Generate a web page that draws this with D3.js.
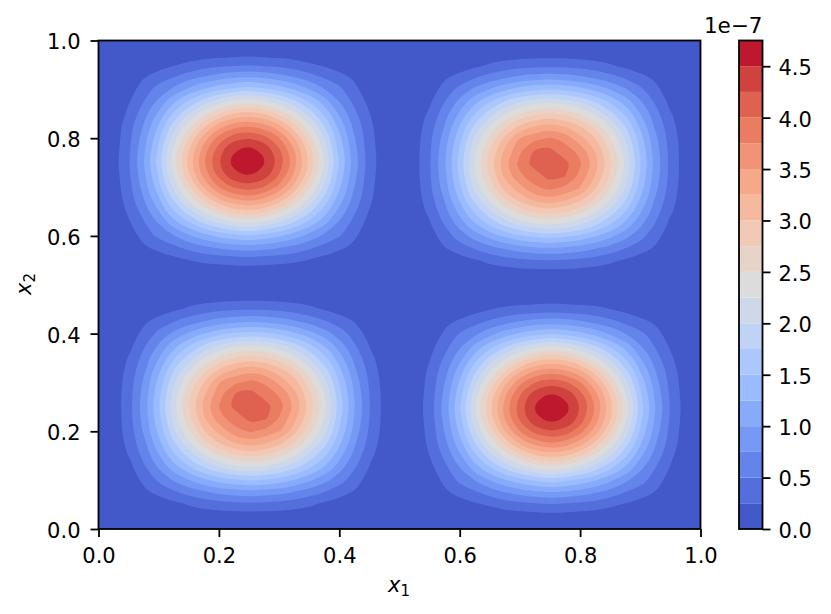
<!DOCTYPE html>
<html lang="en">

<head>
    <meta charset="UTF-8">
    <script src="https://cdn.jsdelivr.net/npm/d3@7"></script>
    <style>
        * {
            margin: 0;
            padding: 0;
        }

        body {
            background: #ffffff;
        }

        text {
            font-family: "DejaVu Sans", sans-serif;
            font-size: 21px;
            fill: #000000;
        }
    </style>
    <title>contour</title>
</head>

<body>
    <script>
        // contour levels and the colour of each band, values in units of 1e-7
        const levels = [0.25, 0.5, 0.75, 1, 1.25, 1.5, 1.75, 2, 2.25, 2.5, 2.75, 3, 3.25, 3.5, 3.75, 4, 4.25, 4.5];
        const levelEnd = 4.75;
        const bandColors = ["#4358c9", "#546fdc", "#6484eb", "#7699f6", "#88aafb", "#9abbfe", "#acc7fb", "#bed3f6", "#ced8e9", "#dddcdc",
            "#e8d3c9", "#f2c9b5", "#f5b99f", "#f6a88a", "#f19376", "#ea7c62", "#de624f", "#cf423e", "#bd182e"];
        const axisTicks = [0, 0.2, 0.4, 0.6, 0.8, 1];
        const barTicks = [0, 0.5, 1, 1.5, 2, 2.5, 3, 3.5, 4, 4.5];

        // where the four humps sit, and which grid each one uses
        const humpX = [0.2475, 0.7486, 0.2533, 0.753];
        const humpY = [0.753, 0.7478, 0.2515, 0.2474];
        const humpKind = ["peak", "flat", "flat", "peak"];
        const gridStep = 0.025;

        // values read around a hump with a sharp core
        const peakGrid = [
            [0, .01, .02, .03, .05, .07, .09, .10, .11, .12, .11, .10, .09, .07, .05, .03, .02, .01, 0],
            [.01, .03, .07, .10, .19, .27, .33, .37, .40, .42, .40, .37, .33, .27, .19, .10, .07, .03, .01],
            [.02, .07, .20, .33, .45, .58, .71, .81, .88, .92, .88, .81, .71, .58, .45, .33, .20, .07, .02],
            [.03, .10, .33, .56, .75, .98, 1.19, 1.36, 1.48, 1.55, 1.48, 1.36, 1.19, .98, .75, .56, .33, .10, .03],
            [.05, .19, .45, .75, 1.12, 1.46, 1.77, 2.03, 2.22, 2.31, 2.22, 2.03, 1.77, 1.46, 1.12, .75, .45, .19, .05],
            [.07, .27, .58, .98, 1.46, 1.90, 2.31, 2.65, 2.92, 3.00, 2.92, 2.65, 2.31, 1.90, 1.46, .98, .58, .27, .07],
            [.09, .33, .71, 1.19, 1.77, 2.31, 2.83, 3.27, 3.55, 3.65, 3.55, 3.27, 2.83, 2.31, 1.77, 1.19, .71, .33, .09],
            [.10, .37, .81, 1.36, 2.03, 2.65, 3.27, 3.76, 4.07, 4.18, 4.07, 3.76, 3.27, 2.65, 2.03, 1.36, .81, .37, .10],
            [.11, .40, .88, 1.48, 2.22, 2.92, 3.55, 4.07, 4.45, 4.54, 4.45, 4.07, 3.55, 2.92, 2.22, 1.48, .88, .40, .11],
            [.12, .42, .92, 1.55, 2.31, 3.00, 3.65, 4.18, 4.54, 4.75, 4.54, 4.18, 3.65, 3.00, 2.31, 1.55, .92, .42, .12],
            [.11, .40, .88, 1.48, 2.22, 2.92, 3.55, 4.07, 4.45, 4.54, 4.45, 4.07, 3.55, 2.92, 2.22, 1.48, .88, .40, .11],
            [.10, .37, .81, 1.36, 2.03, 2.65, 3.27, 3.76, 4.07, 4.18, 4.07, 3.76, 3.27, 2.65, 2.03, 1.36, .81, .37, .10],
            [.09, .33, .71, 1.19, 1.77, 2.31, 2.83, 3.27, 3.55, 3.65, 3.55, 3.27, 2.83, 2.31, 1.77, 1.19, .71, .33, .09],
            [.07, .27, .58, .98, 1.46, 1.90, 2.31, 2.65, 2.92, 3.00, 2.92, 2.65, 2.31, 1.90, 1.46, .98, .58, .27, .07],
            [.05, .19, .45, .75, 1.12, 1.46, 1.77, 2.03, 2.22, 2.31, 2.22, 2.03, 1.77, 1.46, 1.12, .75, .45, .19, .05],
            [.03, .10, .33, .56, .75, .98, 1.19, 1.36, 1.48, 1.55, 1.48, 1.36, 1.19, .98, .75, .56, .33, .10, .03],
            [.02, .07, .20, .33, .45, .58, .71, .81, .88, .92, .88, .81, .71, .58, .45, .33, .20, .07, .02],
            [.01, .03, .07, .10, .19, .27, .33, .37, .40, .42, .40, .37, .33, .27, .19, .10, .07, .03, .01],
            [0, .01, .02, .03, .05, .07, .09, .10, .11, .12, .11, .10, .09, .07, .05, .03, .02, .01, 0]
        ];

        // values read around a hump with a flat core, leaning along one diagonal
        const flatGrid = [
            [0, .01, .02, .03, .06, .08, .10, .12, .13, .13, .13, .12, .10, .08, .06, .03, .02, .01, 0],
            [.01, .03, .07, .11, .20, .29, .36, .41, .44, .45, .44, .41, .36, .29, .20, .11, .07, .03, .01],
            [.02, .07, .21, .35, .49, .62, .74, .84, .90, .93, .90, .84, .74, .62, .49, .35, .21, .07, .02],
            [.03, .11, .35, .58, .82, 1.04, 1.24, 1.40, 1.50, 1.55, 1.50, 1.40, 1.24, 1.04, .82, .58, .35, .11, .03],
            [.06, .20, .49, .82, 1.18, 1.50, 1.79, 2.02, 2.17, 2.23, 2.17, 2.02, 1.79, 1.50, 1.18, .82, .49, .20, .06],
            [.08, .29, .62, 1.04, 1.50, 1.89, 2.26, 2.55, 2.74, 2.82, 2.74, 2.55, 2.26, 1.89, 1.50, 1.04, .62, .29, .08],
            [.10, .36, .74, 1.24, 1.79, 2.26, 2.70, 3.05, 3.27, 3.37, 3.27, 3.05, 2.70, 2.26, 1.79, 1.24, .74, .36, .10],
            [.12, .41, .84, 1.40, 2.02, 2.55, 3.05, 3.50, 3.69, 3.80, 3.69, 3.38, 3.05, 2.55, 2.02, 1.40, .84, .41, .12],
            [.13, .44, .90, 1.50, 2.17, 2.74, 3.27, 3.69, 4.02, 4.08, 3.88, 3.69, 3.27, 2.74, 2.17, 1.50, .90, .44, .13],
            [.13, .45, .93, 1.55, 2.23, 2.82, 3.37, 3.80, 4.08, 4.20, 4.08, 3.80, 3.37, 2.82, 2.23, 1.55, .93, .45, .13],
            [.13, .44, .90, 1.50, 2.17, 2.74, 3.27, 3.69, 3.88, 4.08, 4.02, 3.69, 3.27, 2.74, 2.17, 1.50, .90, .44, .13],
            [.12, .41, .84, 1.40, 2.02, 2.55, 3.05, 3.38, 3.69, 3.80, 3.69, 3.50, 3.05, 2.55, 2.02, 1.40, .84, .41, .12],
            [.10, .36, .74, 1.24, 1.79, 2.26, 2.70, 3.05, 3.27, 3.37, 3.27, 3.05, 2.70, 2.26, 1.79, 1.24, .74, .36, .10],
            [.08, .29, .62, 1.04, 1.50, 1.89, 2.26, 2.55, 2.74, 2.82, 2.74, 2.55, 2.26, 1.89, 1.50, 1.04, .62, .29, .08],
            [.06, .20, .49, .82, 1.18, 1.50, 1.79, 2.02, 2.17, 2.23, 2.17, 2.02, 1.79, 1.50, 1.18, .82, .49, .20, .06],
            [.03, .11, .35, .58, .82, 1.04, 1.24, 1.40, 1.50, 1.55, 1.50, 1.40, 1.24, 1.04, .82, .58, .35, .11, .03],
            [.02, .07, .21, .35, .49, .62, .74, .84, .90, .93, .90, .84, .74, .62, .49, .35, .21, .07, .02],
            [.01, .03, .07, .11, .20, .29, .36, .41, .44, .45, .44, .41, .36, .29, .20, .11, .07, .03, .01],
            [0, .01, .02, .03, .06, .08, .10, .12, .13, .13, .13, .12, .10, .08, .06, .03, .02, .01, 0]
        ];

        const width = 831;
        const height = 614;
        const plot = { left: 98.5, right: 700.5, top: 40.5, bottom: 529 };
        const bar = { left: 739, right: 762.5 };
        const gridSize = peakGrid.length;

        const xScale = d3.scaleLinear().domain([0, 1]).range([plot.left, plot.right]);
        const yScale = d3.scaleLinear().domain([0, 1]).range([plot.bottom, plot.top]);
        const barScale = d3.scaleLinear().domain([0, levelEnd]).range([plot.bottom, plot.top]);

        const svg = d3.select("body").append("svg")
            .attr("width", width)
            .attr("height", height)
            .style("display", "block");

        drawField();
        drawAxes();
        drawColorbar();
        drawLabels();

        // drop ring vertices that bunch up, they make kinks once the ring is curved
        function thinRing(ring) {
            const kept = [];
            ring.forEach(p => {
                const last = kept[kept.length - 1];
                if (!last || Math.hypot(p[0] - last[0], p[1] - last[1]) > 5) {
                    kept.push(p);
                }
            });
            return kept;
        }

        function drawField() {
            svg.append("rect")
                .attr("x", plot.left)
                .attr("y", plot.top)
                .attr("width", plot.right - plot.left)
                .attr("height", plot.bottom - plot.top)
                .attr("fill", bandColors[0]);

            const ringLine = d3.line().curve(d3.curveCatmullRomClosed.alpha(0.5));

            humpKind.forEach((kind, h) => {
                const values = (kind === "peak" ? peakGrid : flatGrid).flat();
                const contours = d3.contours().size([gridSize, gridSize]).thresholds(levels)(values);
                const mid = (gridSize - 1) / 2;

                svg.append("g").selectAll("path")
                    .data(contours)
                    .join("path")
                    .attr("fill", (d, i) => bandColors[i + 1])
                    .attr("d", d => d.coordinates.map(poly => {
                        // grid nodes sit at half cell offsets in d3.contours
                        const ring = poly[0].slice(0, -1).map(p => [
                            xScale(humpX[h] + (p[0] - 0.5 - mid) * gridStep),
                            yScale(humpY[h] - (p[1] - 0.5 - mid) * gridStep)
                        ]);
                        return ringLine(thinRing(ring));
                    }).join(""));
            });
        }

        function drawAxes() {
            const fmt = d3.format(".1f");
            const xAxis = d3.axisBottom(xScale).tickValues(axisTicks).tickFormat(fmt).tickSize(8).tickPadding(11);
            const yAxis = d3.axisLeft(yScale).tickValues(axisTicks).tickFormat(fmt).tickSize(8).tickPadding(10);

            styleAxis(svg.append("g").attr("transform", `translate(0,${plot.bottom})`).call(xAxis));
            styleAxis(svg.append("g").attr("transform", `translate(${plot.left},0)`).call(yAxis))
                .selectAll(".tick text").attr("dy", "0.4em");

            svg.append("rect")
                .attr("x", plot.left)
                .attr("y", plot.top)
                .attr("width", plot.right - plot.left)
                .attr("height", plot.bottom - plot.top)
                .attr("fill", "none")
                .attr("stroke", "#000000")
                .attr("stroke-width", 1.8);
        }

        function styleAxis(g) {
            g.select(".domain").remove();
            g.selectAll(".tick line").attr("stroke", "#000000").attr("stroke-width", 1.8);
            g.selectAll(".tick text").attr("fill", "#000000").style("font-family", "DejaVu Sans").style("font-size", "21px");
            return g;
        }

        function drawColorbar() {
            const edges = [0, ...levels, levelEnd];
            svg.append("g").selectAll("rect")
                .data(bandColors)
                .join("rect")
                .attr("x", bar.left)
                .attr("width", bar.right - bar.left)
                .attr("y", (d, i) => barScale(edges[i + 1]))
                .attr("height", (d, i) => barScale(edges[i]) - barScale(edges[i + 1]))
                .attr("fill", d => d);

            const axis = d3.axisRight(barScale).tickValues(barTicks).tickFormat(d3.format(".1f")).tickSize(8).tickPadding(8);
            styleAxis(svg.append("g").attr("transform", `translate(${bar.right},0)`).call(axis))
                .selectAll(".tick text").attr("dy", "0.4em");

            svg.append("rect")
                .attr("x", bar.left)
                .attr("y", plot.top)
                .attr("width", bar.right - bar.left)
                .attr("height", plot.bottom - plot.top)
                .attr("fill", "none")
                .attr("stroke", "#000000")
                .attr("stroke-width", 1.8);

            svg.append("text")
                .attr("x", bar.right)
                .attr("y", 33)
                .attr("text-anchor", "end")
                .style("font-size", "21.5px")
                .text("1e\u22127");
        }

        function drawLabels() {
            const xLabel = svg.append("text")
                .attr("x", 399)
                .attr("y", 592)
                .attr("text-anchor", "middle");
            xLabel.append("tspan").style("font-style", "italic").text("x");
            xLabel.append("tspan").attr("dy", 4).style("font-size", "15px").text("1");

            const yLabel = svg.append("text")
                .attr("transform", "translate(31,284) rotate(-90)")
                .attr("text-anchor", "middle");
            yLabel.append("tspan").style("font-style", "italic").text("x");
            yLabel.append("tspan").attr("dy", 4).style("font-size", "15px").text("2");
        }
    </script>
</body>

</html>
